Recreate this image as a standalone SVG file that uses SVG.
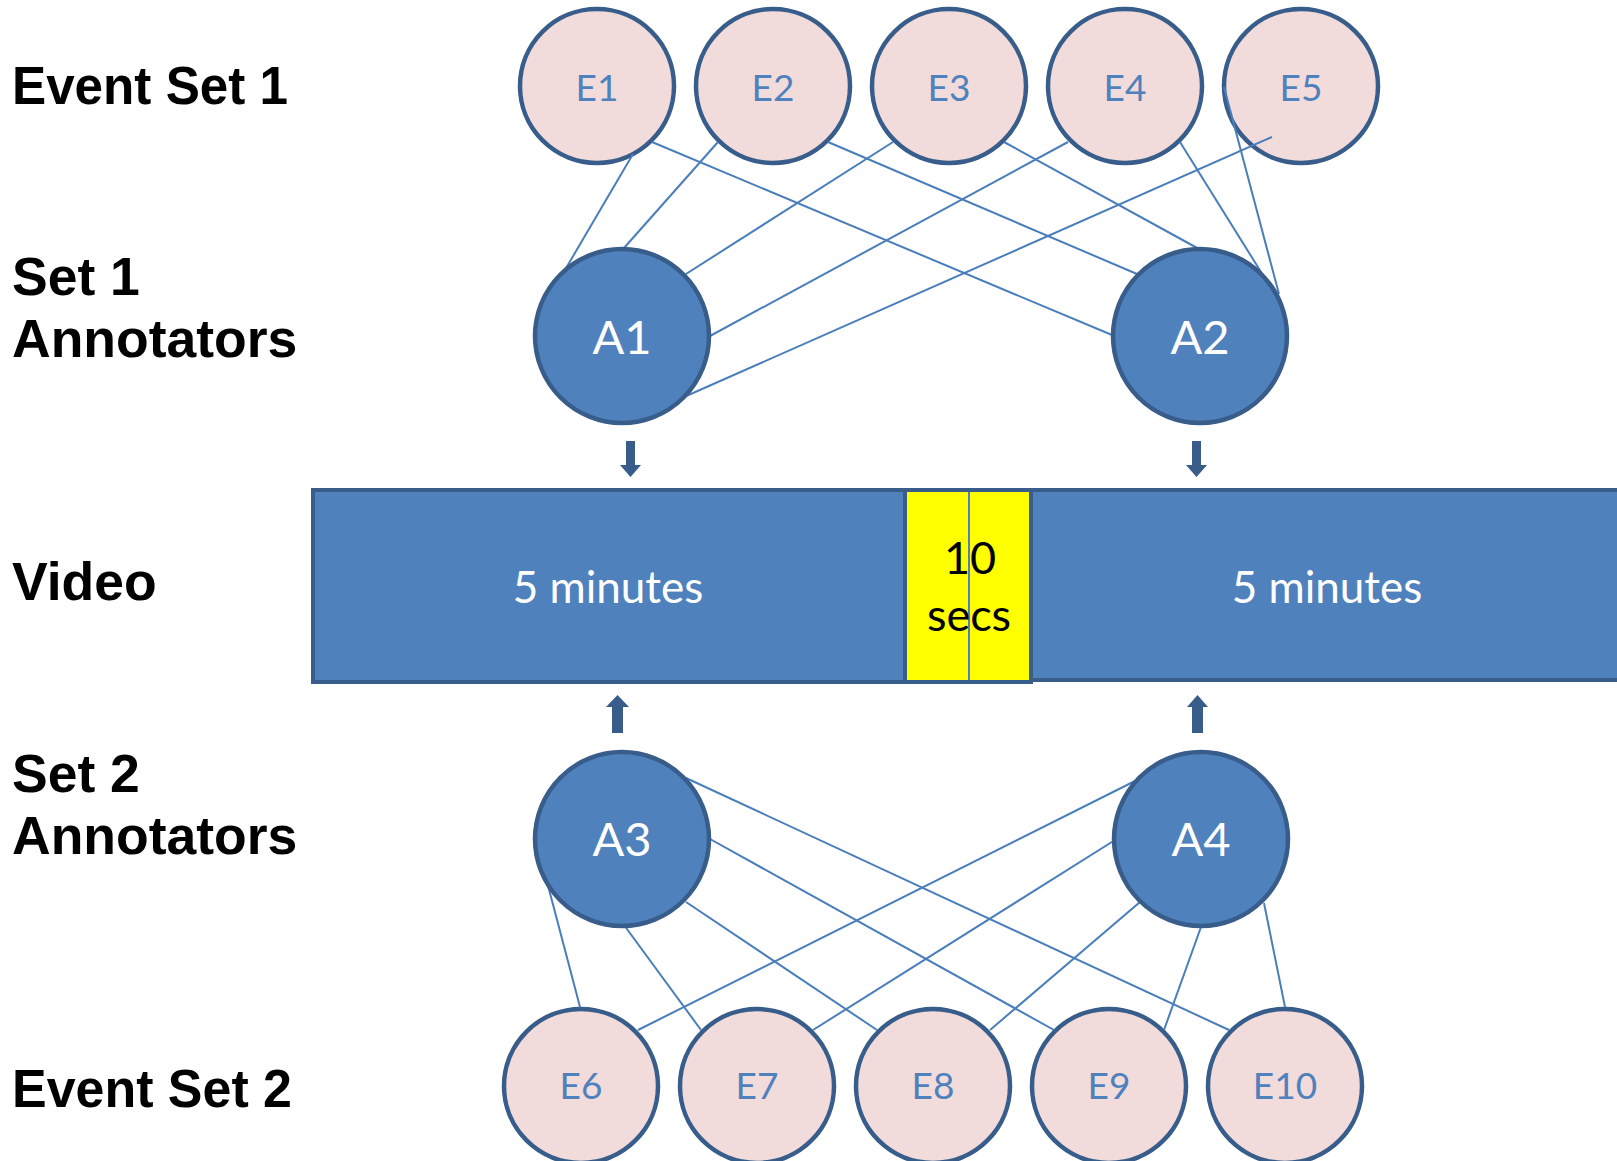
<svg xmlns="http://www.w3.org/2000/svg" width="1617" height="1161" viewBox="0 0 1617 1161">
<style>
.lbl{font-family:"Liberation Sans",Arial,sans-serif;font-weight:bold;font-size:53.5px;fill:#000}
.ev{fill:#f2dcdb;stroke:#385d8a;stroke-width:4.5}
.an{fill:#4f81bd;stroke:#385d8a;stroke-width:4.5}
.et{font-family:Lato,"Open Sans",sans-serif;font-size:37px;fill:#4f81bd;text-anchor:middle}
.at{font-family:Lato,"Open Sans",sans-serif;font-size:47px;fill:#fff;text-anchor:middle}
.vt{font-family:Lato,"Open Sans",sans-serif;font-size:44px;fill:#fff;text-anchor:middle}
.yt{font-family:Lato,"Open Sans",sans-serif;font-size:45px;fill:#000;text-anchor:middle}
.bar{fill:#4f81bd;stroke:#385d8a;stroke-width:4}
.con line{stroke:#4a7ebb;stroke-width:2}
.arr{fill:#385d8a}
</style>
<rect width="1617" height="1161" fill="#fff"/>
<g id="labels">
<text class="lbl" x="12" y="104" textLength="276" lengthAdjust="spacingAndGlyphs">Event Set 1</text>
<text class="lbl" x="12" y="295">Set 1</text>
<text class="lbl" x="12" y="357">Annotators</text>
<text class="lbl" x="12" y="600">Video</text>
<text class="lbl" x="12" y="792">Set 2</text>
<text class="lbl" x="12" y="854">Annotators</text>
<text class="lbl" x="12" y="1107" textLength="280" lengthAdjust="spacingAndGlyphs">Event Set 2</text>
</g>
<g id="E1"><circle class="ev" cx="597" cy="86" r="77"/><text class="et" x="597" y="101">E1</text></g>
<g id="E2"><circle class="ev" cx="773" cy="86" r="77"/><text class="et" x="773" y="101">E2</text></g>
<g id="E3"><circle class="ev" cx="949" cy="86" r="77"/><text class="et" x="949" y="101">E3</text></g>
<g id="E4"><circle class="ev" cx="1125" cy="86" r="77"/><text class="et" x="1125" y="101">E4</text></g>
<g id="E5"><circle class="ev" cx="1301" cy="86" r="77"/><text class="et" x="1301" y="101">E5</text></g>
<g id="E6"><circle class="ev" cx="581" cy="1086" r="77"/><text class="et" x="581" y="1099">E6</text></g>
<g id="E7"><circle class="ev" cx="757" cy="1086" r="77"/><text class="et" x="757" y="1099">E7</text></g>
<g id="E8"><circle class="ev" cx="933" cy="1086" r="77"/><text class="et" x="933" y="1099">E8</text></g>
<g id="E9"><circle class="ev" cx="1109" cy="1086" r="77"/><text class="et" x="1109" y="1099">E9</text></g>
<g id="E10"><circle class="ev" cx="1285" cy="1086" r="77"/><text class="et" x="1285" y="1099">E10</text></g>
<g id="connectors" class="con">
<line x1="633" y1="154" x2="562" y2="275"/>
<line x1="652" y1="142" x2="1112" y2="335"/>
<line x1="718" y1="142" x2="624" y2="248"/>
<line x1="828" y1="142" x2="1137" y2="274"/>
<line x1="893" y1="142" x2="686" y2="274"/>
<line x1="1004" y1="142" x2="1199" y2="249"/>
<line x1="1068" y1="142" x2="710" y2="336"/>
<line x1="1180" y1="142" x2="1266" y2="280"/>
<line x1="1224" y1="87" x2="1279" y2="294"/>
<line x1="1272" y1="137" x2="684" y2="397"/>
<line x1="536" y1="840" x2="580" y2="1007"/>
<line x1="624" y1="925" x2="701" y2="1030"/>
<line x1="686" y1="902" x2="877" y2="1030"/>
<line x1="710" y1="839" x2="1054" y2="1030"/>
<line x1="686" y1="778" x2="1229" y2="1030"/>
<line x1="1141" y1="778" x2="638" y2="1030"/>
<line x1="1115" y1="840" x2="813" y2="1030"/>
<line x1="1140" y1="902" x2="990" y2="1030"/>
<line x1="1201" y1="927" x2="1164" y2="1030"/>
<line x1="1264" y1="903" x2="1285" y2="1007"/>
</g>
<g id="A1"><circle class="an" cx="622" cy="336" r="87"/><text class="at" x="622" y="354">A1</text></g>
<g id="A2"><circle class="an" cx="1200" cy="336" r="87"/><text class="at" x="1200" y="354">A2</text></g>
<g id="A3"><circle class="an" cx="622" cy="839" r="87"/><text class="at" x="622" y="856">A3</text></g>
<g id="A4"><circle class="an" cx="1201" cy="839" r="87"/><text class="at" x="1201" y="856">A4</text></g>
<g id="arrows" class="arr">
<path d="M626 441 H635 V465 H641 L630.5 477 L620 465 H626 Z"/>
<path d="M1192 441 H1201 V465 H1207 L1196.5 477 L1186 465 H1192 Z"/>
<path d="M612 733 H623 V707 H629 L617.5 695 L606 707 H612 Z"/>
<path d="M1192 733 H1203 V707 H1208 L1197.5 695 L1187 707 H1192 Z"/>
</g>
<g id="video">
<rect class="bar" x="313" y="490" width="592" height="192"/>
<rect class="bar" x="1031" y="490" width="600" height="190"/>
<rect x="905" y="490" width="126" height="192" fill="#ffff00" stroke="#385d8a" stroke-width="4"/>
<line x1="969" y1="492" x2="969" y2="680" stroke="#4f81bd" stroke-width="2"/>
<text class="vt" x="608" y="603">5 minutes</text>
<text class="vt" x="1327" y="603">5 minutes</text>
<text class="yt" x="970" y="574">10</text>
<text class="yt" x="969" y="631">secs</text>
</g>
</svg>
